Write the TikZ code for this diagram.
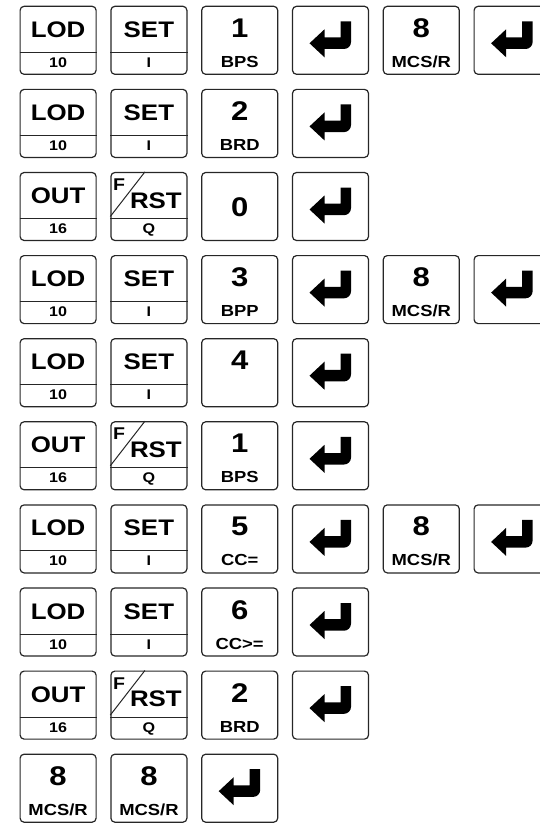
\documentclass[tikz,border=0pt]{standalone}
\usepackage{fontspec}
\newfontfamily\keyfont{Liberation Sans}[FakeStretch=1.15]

\tikzset{
  keybox/.style={draw=black!85, line width=1.2pt, rounded corners=4pt,
    minimum width=76pt, minimum height=68pt, inner sep=0pt, anchor=north west},
  keyline/.style={draw=black!85, line width=1pt},
  bigtxt/.style={font=\keyfont\bfseries\fontsize{22.5}{22.5}\selectfont, inner sep=0pt, anchor=base},
  digittxt/.style={font=\keyfont\bfseries\fontsize{27}{27}\selectfont, inner sep=0pt, anchor=base},
  smalltxt/.style={font=\keyfont\bfseries\fontsize{14}{14}\selectfont, inner sep=0pt, anchor=base},
  subtxt/.style={font=\keyfont\bfseries\fontsize{16}{16}\selectfont, inner sep=0pt, anchor=base},
  ftxt/.style={font=\keyfont\bfseries\fontsize{17}{17}\selectfont, inner sep=0pt, anchor=base west},
}

% key with a word on top and a code below a divider
\newcommand{\divkey}[4]{%
  \node[keybox] (k#2-#1) at ({19.5+90.8*#1},{-5.7-83.1*#2}) {};
  \draw[keyline] ([yshift=-12pt]k#2-#1.west) -- ([yshift=-12pt]k#2-#1.east);
  \node[bigtxt] (k#2-#1-top) at ([yshift=3pt]k#2-#1.center) {#3};
  \node[smalltxt] (k#2-#1-bot) at ([yshift=-27pt]k#2-#1.center) {#4};
}
% F/RST key
\newcommand{\rstkey}[2]{%
  \node[keybox] (k#2-#1) at ({19.5+90.8*#1},{-5.7-83.1*#2}) {};
  \draw[keyline] ([yshift=-12pt]k#2-#1.west) -- ([yshift=-12pt]k#2-#1.east);
  \draw[keyline] ([xshift=-4pt]k#2-#1.north) -- ([yshift=-10pt]k#2-#1.west);
  \node[ftxt] (k#2-#1-f) at ([xshift=2.5pt,yshift=16pt]k#2-#1.west) {F};
  \node[bigtxt] (k#2-#1-top) at ([xshift=7pt,yshift=-1.5pt]k#2-#1.center) {RST};
  \node[smalltxt] (k#2-#1-bot) at ([yshift=-27pt]k#2-#1.center) {Q};
}
% digit key with a mnemonic below
\newcommand{\numkey}[4]{%
  \node[keybox] (k#2-#1) at ({19.5+90.8*#1},{-5.7-83.1*#2}) {};
  \node[digittxt] (k#2-#1-top) at ([yshift=3pt]k#2-#1.center) {#3};
  \node[subtxt] (k#2-#1-bot) at ([yshift=-27pt]k#2-#1.center) {#4};
}
% digit key, digit centred
\newcommand{\midkey}[3]{%
  \node[keybox] (k#2-#1) at ({19.5+90.8*#1},{-5.7-83.1*#2}) {};
  \node[digittxt] (k#2-#1-top) at ([yshift=-10pt]k#2-#1.center) {#3};
}
% enter key
\newcommand{\enterkey}[2]{%
  \node[keybox] (k#2-#1) at ({19.5+90.8*#1},{-5.7-83.1*#2}) {};
  \fill[shift={(k#2-#1.center)}] (-21,-3) -- (-6,11) -- (-6,2.8) -- (10,2.8)
    -- (10,19) -- (20.5,19) -- (20.5,-1.7) arc (0:-90:7) -- (-6,-8.7)
    -- (-6,-17) -- cycle;
}

\begin{document}
\begin{tikzpicture}[x=1pt, y=1pt]
  \useasboundingbox (0,0) rectangle (540,-824);
  \clip (0,0) rectangle (540,-824);

  % row 0
  \divkey{0}{0}{LOD}{10}
  \divkey{1}{0}{SET}{I}
  \numkey{2}{0}{1}{BPS}
  \enterkey{3}{0}
  \numkey{4}{0}{8}{MCS/R}
  \enterkey{5}{0}
  % row 1
  \divkey{0}{1}{LOD}{10}
  \divkey{1}{1}{SET}{I}
  \numkey{2}{1}{2}{BRD}
  \enterkey{3}{1}
  % row 2
  \divkey{0}{2}{OUT}{16}
  \rstkey{1}{2}
  \midkey{2}{2}{0}
  \enterkey{3}{2}
  % row 3
  \divkey{0}{3}{LOD}{10}
  \divkey{1}{3}{SET}{I}
  \numkey{2}{3}{3}{BPP}
  \enterkey{3}{3}
  \numkey{4}{3}{8}{MCS/R}
  \enterkey{5}{3}
  % row 4
  \divkey{0}{4}{LOD}{10}
  \divkey{1}{4}{SET}{I}
  \numkey{2}{4}{4}{}
  \enterkey{3}{4}
  % row 5
  \divkey{0}{5}{OUT}{16}
  \rstkey{1}{5}
  \numkey{2}{5}{1}{BPS}
  \enterkey{3}{5}
  % row 6
  \divkey{0}{6}{LOD}{10}
  \divkey{1}{6}{SET}{I}
  \numkey{2}{6}{5}{CC=}
  \enterkey{3}{6}
  \numkey{4}{6}{8}{MCS/R}
  \enterkey{5}{6}
  % row 7
  \divkey{0}{7}{LOD}{10}
  \divkey{1}{7}{SET}{I}
  \numkey{2}{7}{6}{CC>=}
  \enterkey{3}{7}
  % row 8
  \divkey{0}{8}{OUT}{16}
  \rstkey{1}{8}
  \numkey{2}{8}{2}{BRD}
  \enterkey{3}{8}
  % row 9
  \numkey{0}{9}{8}{MCS/R}
  \numkey{1}{9}{8}{MCS/R}
  \enterkey{2}{9}
\end{tikzpicture}
\end{document}
